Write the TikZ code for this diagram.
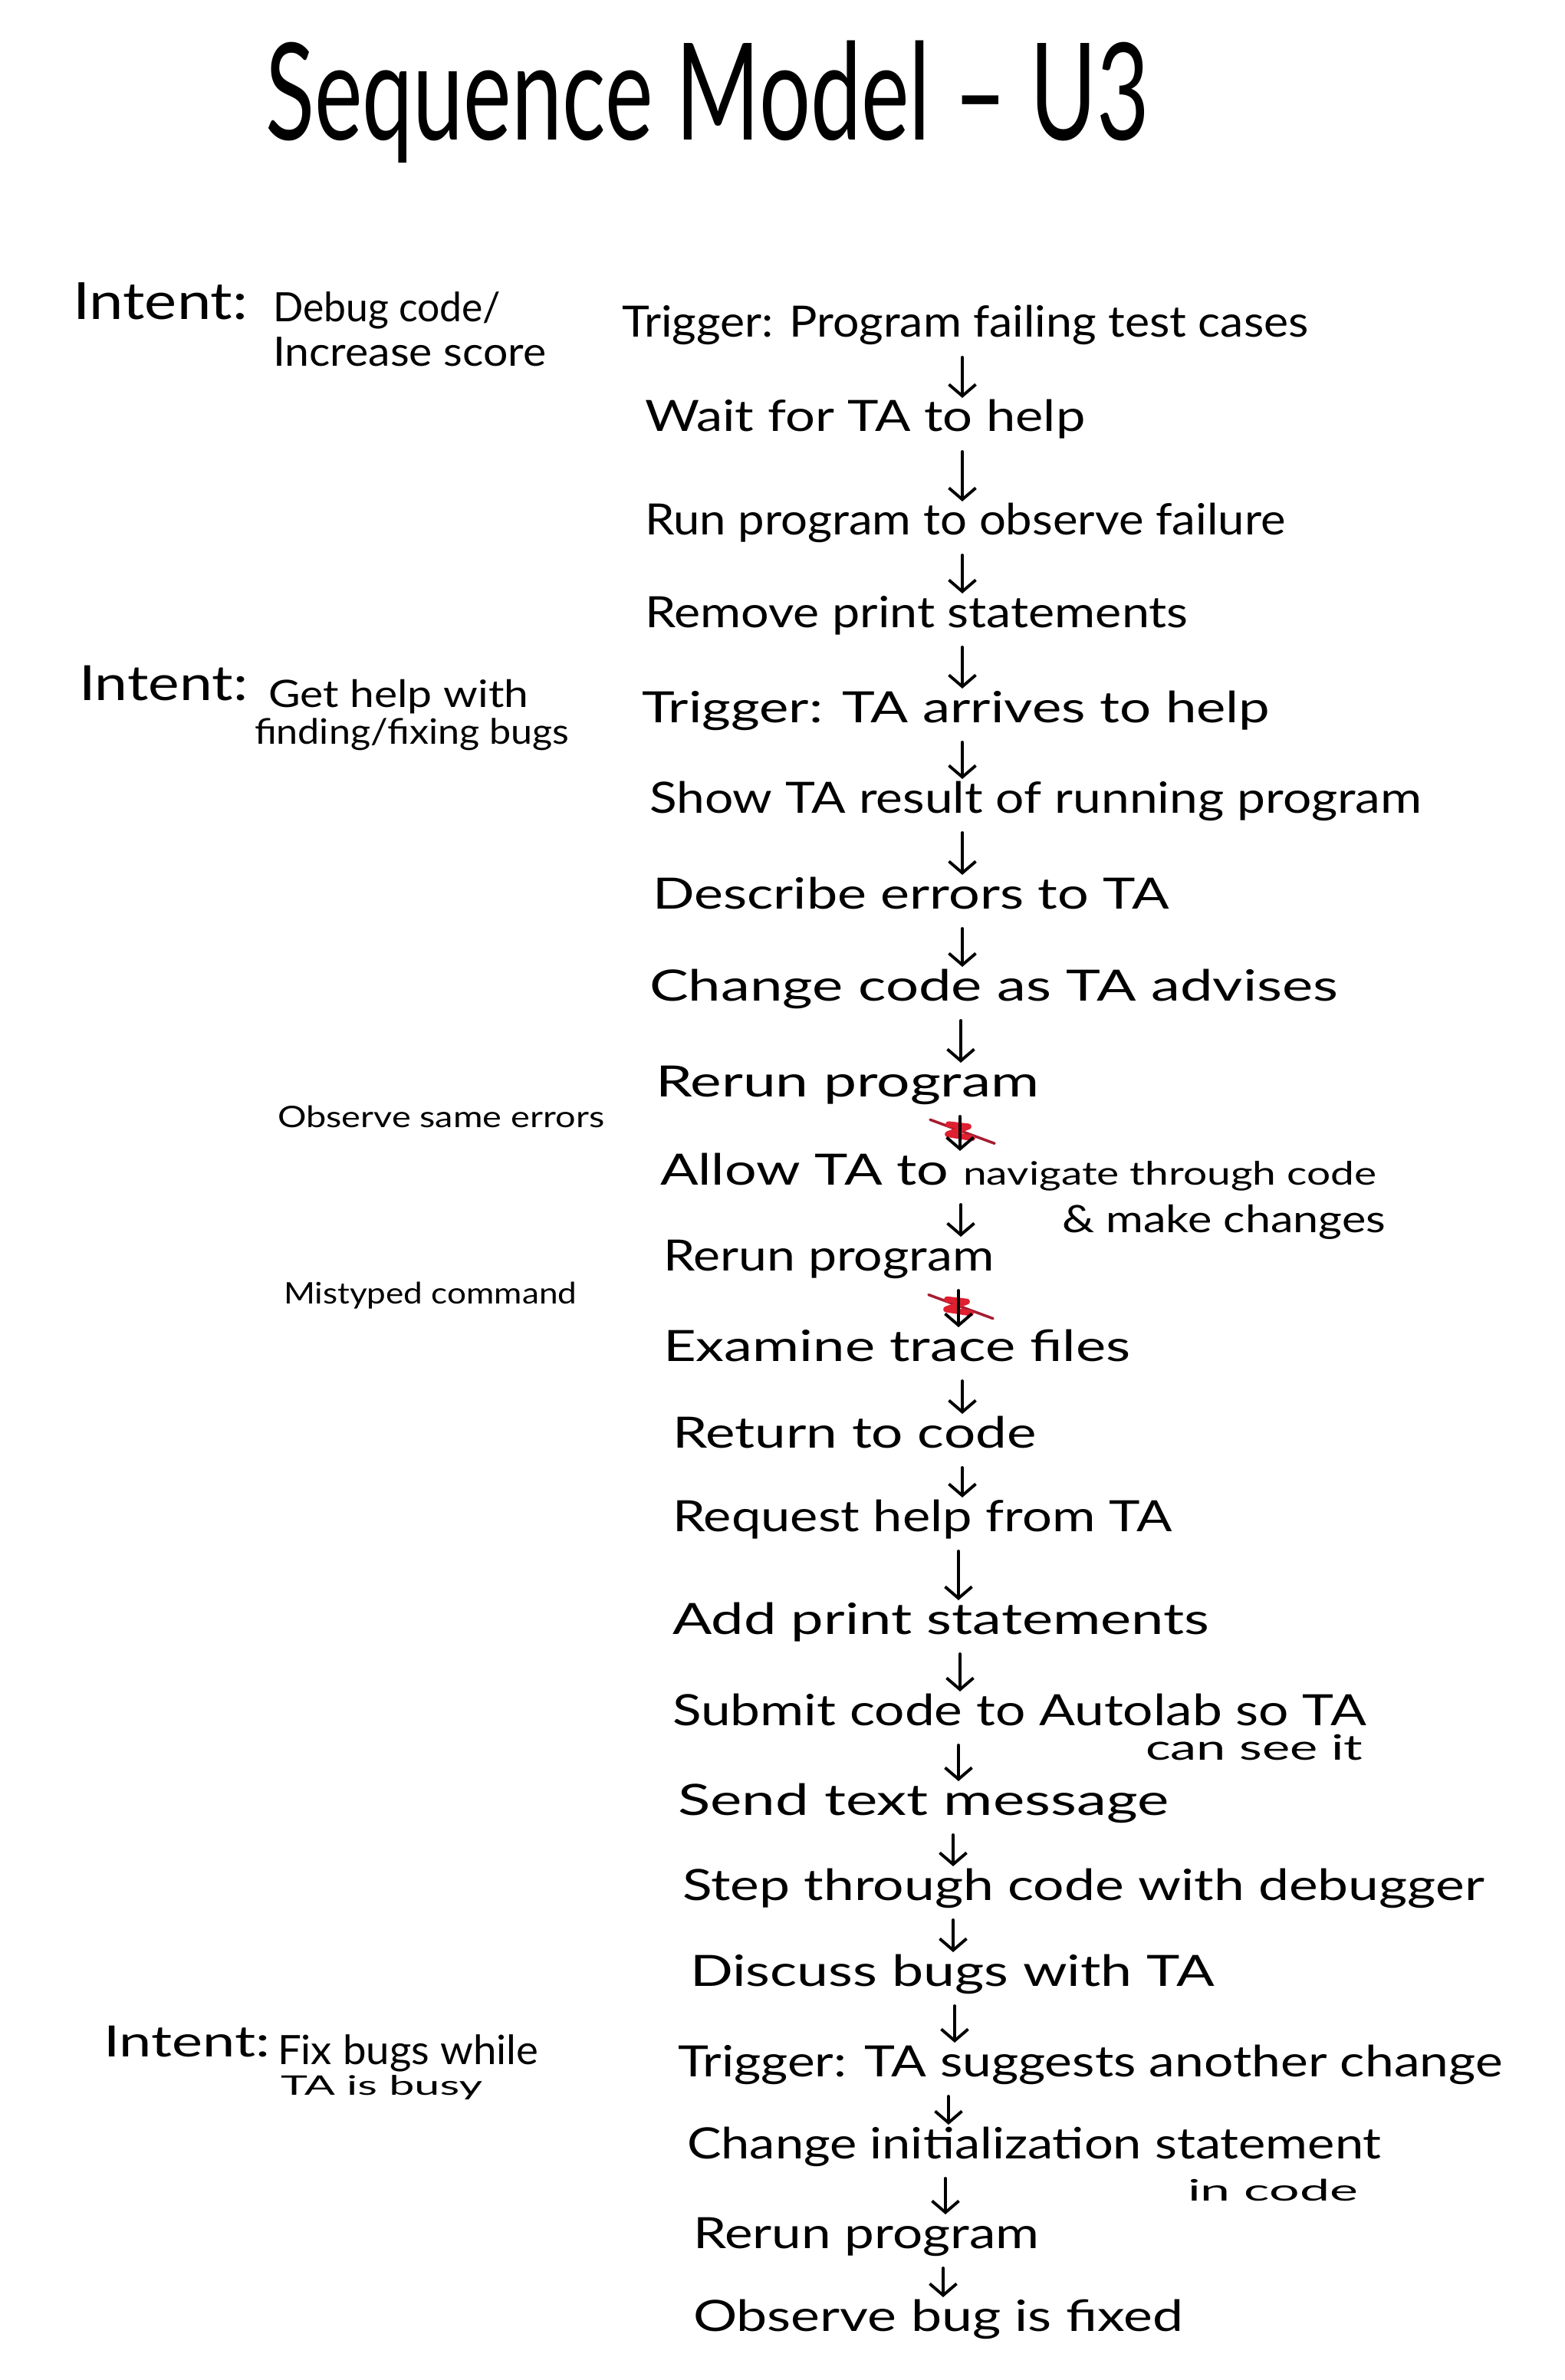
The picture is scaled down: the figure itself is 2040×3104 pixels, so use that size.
\documentclass[tikz,border=0pt]{standalone}
\usepackage{fontspec}
\setmainfont{Lato}
\usepackage{graphicx}
\usetikzlibrary{arrows.meta}
\definecolor{zigred}{RGB}{222,32,48}
\definecolor{linered}{RGB}{168,28,48}
\newcommand\fw[2]{\resizebox{#1cm}{\height}{#2}}
\newcommand\nogo[1]{%
  \draw[linered, line width=1pt, line cap=round] ([shift={(-39,-16)}]#1) -- ([shift={(45,15)}]#1);
  \draw[zigred, line width=2.2pt, line join=round, line cap=round] ([shift={(-15,-10)}]#1) -- ([shift={(11,-7)}]#1) -- ([shift={(-16,3)}]#1) -- ([shift={(16,8)}]#1);}
\begin{document}
\begin{tikzpicture}[x=0.01cm,y=-0.01cm,
  lbl/.style={anchor=base west, inner sep=0pt, outer sep=0pt},
  stp/.style={lbl, font=\fontsize{16}{19}\selectfont, text height=0.44cm, text depth=0.26cm},
  note/.style={lbl, font=\fontsize{11}{13}\selectfont},
  arr/.style={-{Straight Barb[length=1.5mm,width=3.5mm]}, line width=1.1pt, line cap=round}]
\fill[white] (0,0) rectangle (2040,3104);
\useasboundingbox (0,0) rectangle (2040,3104);

% title
\node[lbl, font=\fontsize{50}{60}\selectfont] (title) at (346,183) {\fw{11.52}{Sequence Model – U3}};

% intents and side notes
\node[lbl, font=\fontsize{19}{22}\selectfont] (i1) at (95,417) {\fw{2.28}{Intent:}};
\node[lbl, font=\fontsize{15}{18}\selectfont] (i1a) at (356,420) {\fw{2.97}{Debug code/}};
\node[lbl, font=\fontsize{15}{18}\selectfont] (i1b) at (356,478) {\fw{3.56}{Increase score}};

\node[lbl, font=\fontsize{18}{22}\selectfont] (i2) at (103,913) {\fw{2.20}{Intent:}};
\node[lbl, font=\fontsize{14}{17}\selectfont] (i2a) at (350,922) {\fw{3.39}{Get help with}};
\node[lbl, font=\fontsize{13}{16}\selectfont] (i2b) at (332,970) {\fw{4.10}{finding/fixing bugs}};

\node[note] (obs) at (362,1470) {\fw{4.26}{Observe same errors}};
\node[note] (mis) at (370,1700) {\fw{3.82}{Mistyped command}};

\node[lbl, font=\fontsize{16}{19}\selectfont] (i3) at (135,2682) {\fw{2.17}{Intent:}};
\node[lbl, font=\fontsize{15}{18}\selectfont] (i3a) at (362,2692) {\fw{3.40}{Fix bugs while}};
\node[lbl, font=\fontsize{10}{12}\selectfont] (i3b) at (366,2732) {\fw{2.63}{TA is busy}};

% steps
\node[stp] (n1) at (811,440) {\fw{8.95}{Trigger: Program failing test cases}};
\node[stp] (n2) at (841,563) {\fw{5.74}{Wait for TA to help}};
\node[stp] (n3) at (841,698) {\fw{8.35}{Run program to observe failure}};
\node[stp] (n4) at (841,818) {\fw{7.08}{Remove print statements}};
\node[stp] (n5) at (837,942) {\fw{8.19}{Trigger: TA arrives to help}};
\node[stp] (n6) at (847,1060) {\fw{10.07}{Show TA result of running program}};
\node[stp] (n7) at (851,1185) {\fw{6.73}{Describe errors to TA}};
\node[stp] (n8) at (847,1305) {\fw{8.98}{Change code as TA advises}};
\node[stp] (n9) at (855,1430) {\fw{5.00}{Rerun program}};
\node[stp] (n10) at (861,1545) {\fw{9.34}{Allow TA to {\fontsize{12}{14}\selectfont navigate through code}}};
\node[lbl, font=\fontsize{14}{17}\selectfont] (n10b) at (1385,1607) {\fw{4.22}{\& make changes}};
\node[stp] (n11) at (865,1657) {\fw{4.31}{Rerun program}};
\node[stp] (n12) at (865,1775) {\fw{6.09}{Examine trace files}};
\node[stp] (n13) at (877,1888) {\fw{4.74}{Return to code}};
\node[stp] (n14) at (877,1997) {\fw{6.51}{Request help from TA}};
\node[stp] (n15) at (877,2131) {\fw{7.00}{Add print statements}};
\node[stp] (n16) at (877,2250) {\fw{9.04}{Submit code to Autolab so TA}};
\node[lbl, font=\fontsize{13}{16}\selectfont] (n16b) at (1494,2295) {\fw{2.83}{can see it}};
\node[stp] (n17) at (884,2367) {\fw{6.40}{Send text message}};
\node[stp] (n18) at (890,2478) {\fw{10.45}{Step through code with debugger}};
\node[stp] (n19) at (900,2590) {\fw{6.83}{Discuss bugs with TA}};
\node[stp] (n20) at (884,2708) {\fw{10.75}{Trigger: TA suggests another change}};
\node[stp] (n21) at (896,2815) {\fw{9.05}{Change initialization statement}};
\node[lbl, font=\fontsize{11}{13}\selectfont] (n21b) at (1549,2870) {\fw{2.22}{in code}};
\node[stp] (n22) at (904,2932) {\fw{4.51}{Rerun program}};
\node[stp] (n23) at (904,3040) {\fw{6.39}{Observe bug is fixed}};

% arrow columns
\coordinate (xa) at (1255,0);
\coordinate (xb) at (1253,0);
\coordinate (xc) at (1252,0);
\coordinate (xd) at (1250,0);
\coordinate (xe) at (1243,0);
\coordinate (xf) at (1245,0);
\coordinate (xg) at (1237,0);
\coordinate (xh) at (1233,0);
\coordinate (xi) at (1230,0);

\draw[arr] (n1.south -| xa) -- (n2.north -| xa);
\draw[arr] (n2.south -| xa) -- (n3.north -| xa);
\draw[arr] (n3.south -| xa) -- (n4.north -| xa);
\draw[arr] (n4.south -| xa) -- (n5.north -| xa);
\draw[arr] (n5.south -| xa) -- (n6.north -| xa);
\draw[arr] (n6.south -| xa) -- (n7.north -| xa);
\draw[arr] (n7.south -| xa) -- (n8.north -| xa);
\draw[arr] (n8.south -| xb) -- (n9.north -| xb);
% crossed-out arrow 1
\path (n9.south -| xc) -- node[coordinate, pos=0.45] (m1) {} (n10.north -| xc);
\nogo{m1}
\draw[arr] (n9.south -| xc) -- (n10.north -| xc);
\draw[arr] (n10.south -| xb) -- (n11.north -| xb);
% crossed-out arrow 2
\path (n11.south -| xd) -- node[coordinate, pos=0.45] (m2) {} (n12.north -| xd);
\nogo{m2}
\draw[arr] (n11.south -| xd) -- (n12.north -| xd);
\draw[arr] (n12.south -| xa) -- (n13.north -| xa);
\draw[arr] (n13.south -| xa) -- (n14.north -| xa);
\draw[arr] (n14.south -| xd) -- (n15.north -| xd);
\draw[arr] (n15.south -| xc) -- (n16.north -| xc);
\draw[arr] (n16.south -| xd) -- (n17.north -| xd);
\draw[arr] (n17.south -| xe) -- (n18.north -| xe);
\draw[arr] (n18.south -| xe) -- (n19.north -| xe);
\draw[arr] (n19.south -| xf) -- (n20.north -| xf);
\draw[arr] (n20.south -| xg) -- (n21.north -| xg);
\draw[arr] (n21.south -| xh) -- (n22.north -| xh);
\draw[arr] (n22.south -| xi) -- (n23.north -| xi);
\end{tikzpicture}
\end{document}
